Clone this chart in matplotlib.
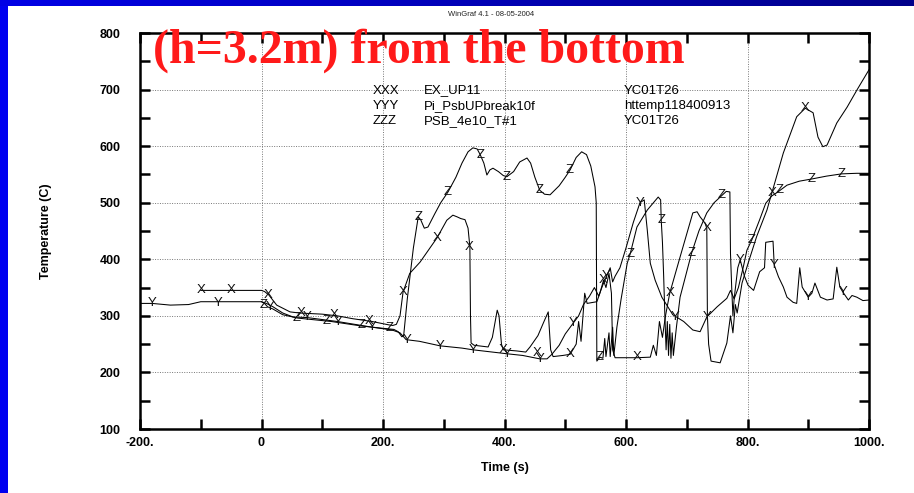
import numpy as np
import matplotlib
matplotlib.use("Agg")
import matplotlib.pyplot as plt
from matplotlib.ticker import MultipleLocator, FixedLocator
from matplotlib.colors import LinearSegmentedColormap

# series: EX_UP11 (X)
x_t = [-100, 0, 5, 12, 25, 47, 63, 100, 125, 150, 182, 210, 216, 222, 228, 233, 244, 261, 289, 305, 315,
       322, 328, 335, 340, 343, 344, 345, 350, 373, 380, 388, 391, 395, 398, 420, 435, 442, 455, 465, 472,
       476, 480, 496, 508, 518, 522, 526, 532, 536, 552, 557, 563, 567, 572, 576, 578, 582, 618, 640, 645,
       650, 655, 660, 665, 672, 689, 710, 717, 722, 730, 733, 734, 736, 740, 755, 766, 772, 776, 780, 783,
       791, 801, 815, 832, 840, 859, 881, 895, 908, 916, 924, 931, 947, 964, 980, 1000]
x_T = [345, 345, 343, 337, 319, 307, 305, 303, 300, 295, 290, 284, 283, 285, 300, 342, 375, 395, 438, 469, 478,
       475, 472, 470, 455, 422, 300, 252, 248, 245, 262, 310, 300, 250, 240, 238, 236, 245, 265, 290, 307,
       240, 228, 230, 232, 250, 290, 255, 340, 322, 325, 340, 363, 350, 375, 340, 240, 226, 226, 227, 248,
       230, 290, 262, 300, 340, 404, 482, 484, 475, 464, 455, 300, 250, 220, 217, 252, 300, 270, 320, 305,
       358, 393, 440, 487, 517, 588, 652, 667, 659, 616, 599, 602, 641, 669, 699, 735]

# series: Pi_PsbUPbreak10f (Y)
y_t = [-200, -180, -150, -120, -100, -50, 0, 8, 19, 35, 52, 75, 125, 182, 215, 228, 238, 245, 260, 294, 330,
       348, 380, 404, 430, 458, 470, 478, 490, 500, 513, 522, 530, 540, 548, 555, 562, 568, 574, 578, 582,
       590, 600, 612, 623, 630, 635, 640, 648, 659, 677, 695, 710, 722, 733, 750, 766, 772, 778, 784, 788,
       795, 801, 810, 820, 828, 830, 842, 844, 851, 859, 865, 875, 881, 886, 890, 900, 906, 911, 920, 931,
       941, 947, 952, 957, 966, 972, 980, 990, 1000]
y_T = [322, 322, 319, 320, 325, 325, 325, 322, 316, 305, 298, 297, 290, 280, 275, 270, 258, 257, 255, 247, 243,
       240, 236, 233, 230, 224, 224, 232, 248, 268, 287, 300, 320, 335, 350, 335, 355, 370, 385, 360, 370,
       385, 420, 465, 500, 505, 452, 393, 363, 333, 302, 290, 275, 272, 298, 316, 331, 345, 330, 385, 399,
       370, 354, 345, 378, 385, 430, 432, 390, 369, 351, 333, 324, 322, 385, 351, 333, 340, 358, 333, 328,
       330, 386, 351, 342, 328, 336, 333, 327, 328]

# series: PSB_4e10_T#1 (Z)
z_t = [0, 5, 10, 19, 35, 60, 115, 165, 200, 218, 225, 231, 234, 240, 250, 258, 262, 268, 274, 285, 295, 307,
       320, 330, 340, 348, 355, 360, 366, 371, 376, 381, 390, 398, 404, 415, 425, 437, 443, 450, 458, 466,
       475, 490, 500, 508, 518, 527, 535, 542, 549, 551, 552, 557, 562, 565, 567, 572, 574, 578, 580, 585,
       592, 602, 607, 618, 635, 653, 657, 658, 660, 662, 664, 666, 668, 670, 672, 674, 676, 678, 683, 689,
       708, 720, 733, 745, 758, 765, 771, 772, 774, 776, 778, 785, 793, 799, 807, 820, 830, 840, 850, 865,
       885, 906, 930, 955, 980, 1000]
z_T = [325, 322, 316, 312, 302, 296, 290, 282, 278, 276, 272, 263, 265, 330, 420, 475, 470, 455, 457, 480, 500,
       519, 545, 570, 590, 597, 595, 585, 570, 549, 558, 561, 555, 548, 546, 555, 572, 579, 570, 545, 522,
       515, 514, 530, 545, 558, 580, 590, 585, 565, 528, 500, 220, 227, 225, 260, 228, 270, 228, 280, 230,
       280, 330, 393, 410, 457, 487, 510, 505, 469, 430, 370, 300, 240, 290, 230, 285, 225, 270, 230, 280,
       333, 411, 450, 482, 500, 513, 520, 519, 410, 350, 300, 330, 350, 386, 416, 434, 470, 499, 512, 519,
       531, 538, 542, 547, 551, 552, 552]

# letter markers
x_mark_t = [-100, -50, 11, 65, 120, 177, 233, 289, 342, 398, 453, 508, 563, 618, 672, 733, 840, 895]
x_mark_T = [345, 345, 337, 305, 301, 291, 342, 438, 422, 240, 234, 232, 363, 227, 340, 455, 517, 667]
y_mark_t = [-180, -72, 15, 75, 126, 182, 240, 294, 348, 404, 458, 513, 568, 623, 681, 733, 788, 844, 900, 957]
y_mark_T = [322, 323, 316, 298, 290, 280, 257, 247, 240, 233, 224, 287, 370, 500, 298, 298, 399, 390, 333, 342]
z_mark_t = [3, 58, 108, 165, 211, 258, 307, 360, 404, 458, 508, 557, 607, 658, 708, 758, 807, 853, 906, 955]
z_mark_T = [320, 297, 291, 283, 278, 475, 519, 585, 546, 522, 558, 227, 410, 469, 411, 513, 434, 522, 542, 551]

legend_codes = ["XXX", "YYY", "ZZZ"]
legend_names = ["EX_UP11", "Pi_PsbUPbreak10f", "PSB_4e10_T#1"]
legend_files = ["YC01T26", "httemp118400913", "YC01T26"]

x_ticks = [-200, 0, 200, 400, 600, 800, 1000]
x_tick_labels = ["-200.", "0", "200.", "400.", "600.", "800.", "1000."]

plt.rcParams['font.family'] = ['Liberation Sans', 'DejaVu Sans']

W, H = 914, 493
fig = plt.figure(figsize=(W / 100, H / 100), dpi=100)
fig.patch.set_facecolor('white')

# slide frame: blue strip on the left and gradient bar on top
left_bar = fig.add_axes([0, 0, 8 / W, 1])
left_bar.set_axis_off()
left_bar.add_patch(plt.Rectangle((0, 0), 1, 1, color='#0000f0', transform=left_bar.transAxes))
top_bar = fig.add_axes([0, 1 - 6 / H, 1, 6 / H])
grad = np.linspace(0, 1, 256).reshape(1, -1)
cm = LinearSegmentedColormap.from_list('bar', ['#0000e6', '#00008a'])
top_bar.imshow(grad, aspect='auto', cmap=cm)
top_bar.set_axis_off()

ax = fig.add_axes([140 / W, 1 - 429 / H, 729 / W, 396 / H])

for t, T in [(x_t, x_T), (y_t, y_T), (z_t, z_T)]:
    ax.plot(t, T, color='black', lw=0.75)

for mt, mT, ch in [(x_mark_t, x_mark_T, 'X'), (y_mark_t, y_mark_T, 'Y'), (z_mark_t, z_mark_T, 'Z')]:
    for a, b in zip(mt, mT):
        ax.text(a, b, ch, fontsize=9.5, ha='center', va='center', color='#111111')

ax.set_xlim(-200, 1000)
ax.set_ylim(100, 800)
ax.xaxis.set_major_locator(FixedLocator(x_ticks))
ax.set_xticklabels(x_tick_labels)
ax.xaxis.set_minor_locator(MultipleLocator(100))
ax.yaxis.set_major_locator(MultipleLocator(100))
ax.yaxis.set_minor_locator(MultipleLocator(50))
ax.tick_params(which='both', direction='in', top=True, right=True, length=7, width=1.8, color='black')
ax.tick_params(axis='x', pad=6, labelsize=9)
ax.tick_params(axis='y', pad=14, labelsize=9)
for lab in ax.get_xticklabels() + ax.get_yticklabels():
    lab.set_fontweight('bold')
for s in ax.spines.values():
    s.set_linewidth(1.8)
ax.grid(True, which='major', linestyle=(0, (1, 1.5)), color='#777777', lw=0.7)

ax.set_xlabel("Time (s)", fontsize=9, fontweight='bold', labelpad=9)
ax.set_ylabel("Temperature (C)", fontsize=9, fontweight='bold', labelpad=34)

# legend block
for i in range(3):
    yy = 1 - (90.5 + i * 15.5) / H
    fig.text(373 / W, yy, legend_codes[i], fontsize=9.5, va='center', ha='left')
    fig.text(424 / W, yy, legend_names[i], fontsize=9.5, va='center', ha='left')
    fig.text(624 / W, yy, legend_files[i], fontsize=9.5, va='center', ha='left')

fig.text(491 / W, 1 - 15 / H, "WinGraf 4.1 - 08-05-2004", fontsize=5.5, ha='center', va='center', color='#222222')
fig.text(153 / W, 1 - 63 / H, "(h=3.2m) from the bottom", fontsize=34.5, fontweight='bold',
         family='Liberation Serif', color='#ff1a1a', ha='left', va='baseline')

fig.savefig("out.png", dpi=100)
